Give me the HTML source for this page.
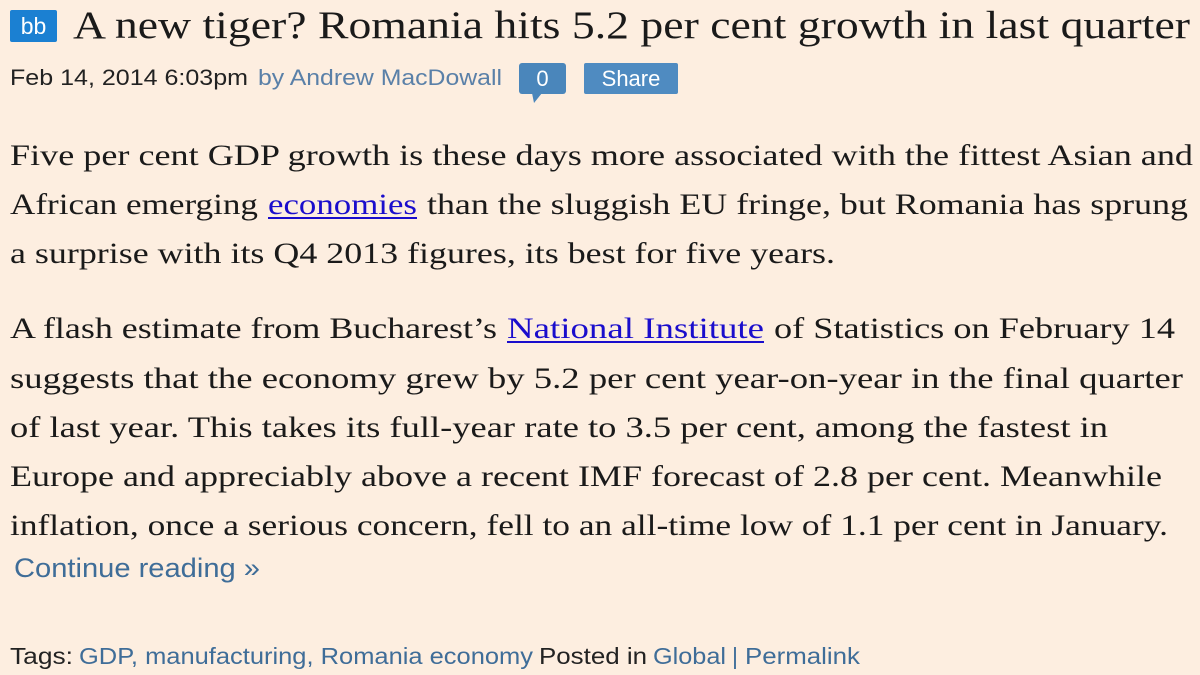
<!DOCTYPE html>
<html><head><meta charset="utf-8"><style>
html,body{margin:0;padding:0;background:#fdeee0;width:1200px;height:675px;overflow:hidden}
svg{display:block}
.s{font-family:"Liberation Serif",serif;fill:#1a1a1a}
.a{font-family:"Liberation Sans",sans-serif}
</style></head><body>
<svg width="1200" height="675">
<rect width="1200" height="675" fill="#fdeee0"/>
<g>
<rect x="10" y="10" width="47" height="32" rx="2" fill="#1b80d2"/>
<text x="33.5" y="34" text-anchor="middle" class="a" font-size="23" fill="#fff">bb</text>
</g>
<text class="s" x="73" y="38" font-size="39" textLength="1117" lengthAdjust="spacingAndGlyphs">A new tiger? Romania hits 5.2 per cent growth in last quarter</text>
<text class="a" x="10" y="85" font-size="22" fill="#222" textLength="238" lengthAdjust="spacingAndGlyphs">Feb 14, 2014 6:03pm</text>
<text class="a" x="258" y="85" font-size="22" fill="#5a80a8" textLength="244" lengthAdjust="spacingAndGlyphs">by Andrew MacDowall</text>
<g>
<rect x="519" y="63" width="47" height="31" rx="3" fill="#4a86bb"/>
<polygon points="532,93 542,93 534,103" fill="#4a86bb"/>
<text x="542.5" y="86" text-anchor="middle" class="a" font-size="22" fill="#fff">0</text>
</g>
<g>
<rect x="584" y="63" width="94" height="31" rx="2" fill="#4f8bc1"/>
<text x="631" y="86" text-anchor="middle" class="a" font-size="22" fill="#fff">Share</text>
</g>
<g font-size="30">
<text class="s" x="10" y="165" textLength="1183" lengthAdjust="spacingAndGlyphs">Five per cent GDP growth is these days more associated with the fittest Asian and</text>
<text class="s" x="10" y="214" textLength="248" lengthAdjust="spacingAndGlyphs">African emerging</text>
<text class="s" x="268" y="214" textLength="149" lengthAdjust="spacingAndGlyphs" style="fill:#1a0dcc">economies</text>
<rect x="268" y="217" width="149" height="2" fill="#1a0dcc"/>
<text class="s" x="427" y="214" textLength="761" lengthAdjust="spacingAndGlyphs">than the sluggish EU fringe, but Romania has sprung</text>
<text class="s" x="10" y="263" textLength="825" lengthAdjust="spacingAndGlyphs">a surprise with its Q4 2013 figures, its best for five years.</text>
</g>
<g font-size="30">
<text class="s" x="10" y="338" textLength="487" lengthAdjust="spacingAndGlyphs">A flash estimate from Bucharest’s</text>
<text class="s" x="507" y="338" textLength="257" lengthAdjust="spacingAndGlyphs" style="fill:#1a0dcc">National Institute</text>
<rect x="507" y="341" width="257" height="2" fill="#1a0dcc"/>
<text class="s" x="774" y="338" textLength="401" lengthAdjust="spacingAndGlyphs">of Statistics on February 14</text>
<text class="s" x="10" y="388" textLength="1173" lengthAdjust="spacingAndGlyphs">suggests that the economy grew by 5.2 per cent year-on-year in the final quarter</text>
<text class="s" x="10" y="437" textLength="1098" lengthAdjust="spacingAndGlyphs">of last year. This takes its full-year rate to 3.5 per cent, among the fastest in</text>
<text class="s" x="10" y="486" textLength="1152" lengthAdjust="spacingAndGlyphs">Europe and appreciably above a recent IMF forecast of 2.8 per cent. Meanwhile</text>
<text class="s" x="10" y="535" textLength="1158" lengthAdjust="spacingAndGlyphs">inflation, once a serious concern, fell to an all-time low of 1.1 per cent in January.</text>
</g>
<text class="a" x="14" y="577" font-size="27" fill="#3f6d98" textLength="246" lengthAdjust="spacingAndGlyphs">Continue reading »</text>
<g font-size="23">
<text class="a" x="10" y="664" fill="#222" textLength="63" lengthAdjust="spacingAndGlyphs">Tags:</text>
<text class="a" x="79" y="664" fill="#3f6d98" textLength="454" lengthAdjust="spacingAndGlyphs">GDP, manufacturing, Romania economy</text>
<text class="a" x="539" y="664" fill="#222" textLength="108" lengthAdjust="spacingAndGlyphs">Posted in</text>
<text class="a" x="653" y="664" fill="#3f6d98" textLength="73" lengthAdjust="spacingAndGlyphs">Global</text>
<text class="a" x="732" y="664" fill="#3f6d98">|</text>
<text class="a" x="745" y="664" fill="#3f6d98" textLength="115" lengthAdjust="spacingAndGlyphs">Permalink</text>
</g>
</svg>
</body></html>
